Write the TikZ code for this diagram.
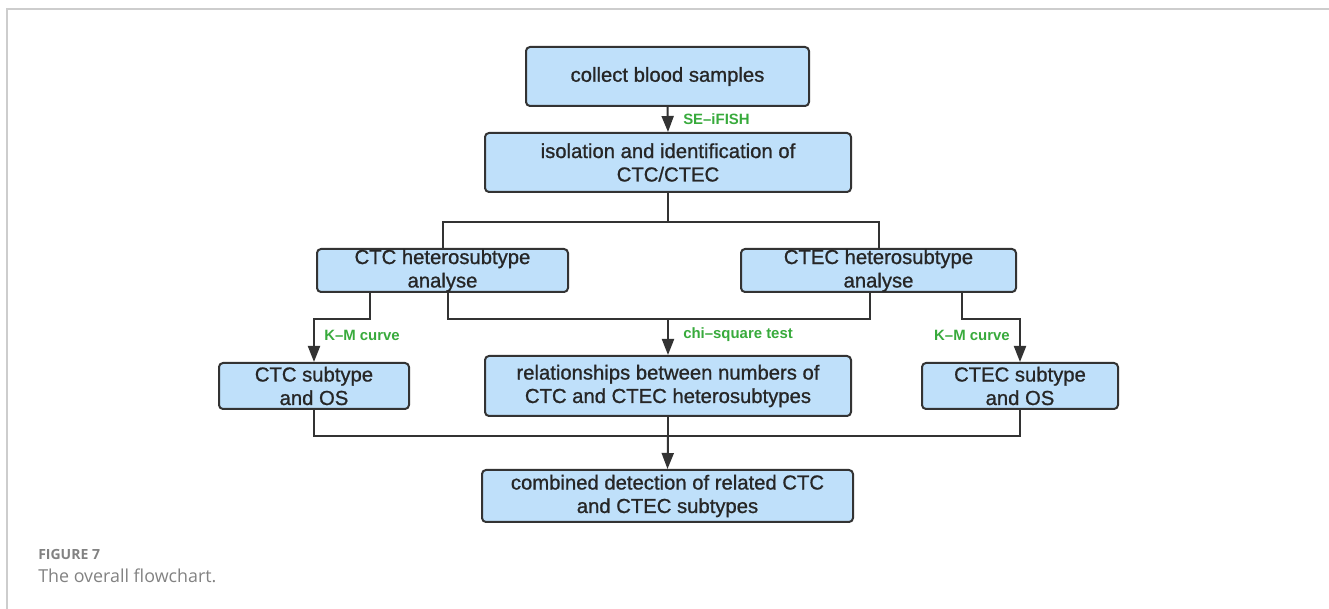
\documentclass[tikz,border=0pt]{standalone}
\usepackage{fontspec}
\setmainfont{Liberation Sans}
\newfontfamily\boxfont{Liberation Sans}[FakeBold=0.9]
\newfontfamily\capfont{Open Sans}
\usetikzlibrary{arrows.meta}
\definecolor{boxblue}{RGB}{191,224,250}
\definecolor{boxline}{RGB}{51,51,51}
\definecolor{labgreen}{RGB}{56,170,60}
\definecolor{capgray}{RGB}{130,130,130}
\definecolor{framegray}{RGB}{205,205,205}

\begin{document}
\begin{tikzpicture}[x=0.75pt,y=-0.75pt,
    box/.style={draw=boxline, fill=boxblue, line width=1.5pt, rounded corners=3pt,
      align=center, inner sep=0pt, text=black!85, font=\boxfont\fontsize{15.2}{17.6}\selectfont},
    link/.style={draw=boxline, line width=1.5pt},
    arr/.style={link, -{Triangle[length=12pt,width=9pt]}},
    lab/.style={text=labgreen, inner sep=0pt, font=\fontsize{11.2}{13}\selectfont\bfseries}]
    \def\u{0.75pt}
    \useasboundingbox (0,0) rectangle (1329,609);
    % frame
    \draw[framegray, line width=1.1pt] (7,609) -- (7,9) -- (1329,9);

    % boxes
    \node[box, minimum width=283*\u, minimum height=59*\u] (blood) at (667.5,76.5) {collect blood samples};
    \node[box, minimum width=366*\u, minimum height=59*\u] (iso) at (668,162.5) {isolation and identification of\\CTC/CTEC};
    \node[box, minimum width=251*\u, minimum height=43*\u] (cta) at (442.5,270.5) {CTC heterosubtype\\analyse};
    \node[box, minimum width=275*\u, minimum height=43*\u] (cte) at (878.5,270.5) {CTEC heterosubtype\\analyse};
    \node[box, minimum width=190*\u, minimum height=46*\u] (ctos) at (314,386) {CTC subtype\\and OS};
    \node[box, minimum width=366*\u, minimum height=60*\u] (rel) at (668,386) {relationships between numbers of\\CTC and CTEC heterosubtypes};
    \node[box, minimum width=196*\u, minimum height=46*\u] (ceos) at (1020,386) {CTEC subtype\\and OS};
    \node[box, minimum width=371*\u, minimum height=52*\u] (comb) at (667.5,496) {combined detection of related CTC\\and CTEC subtypes};

    % junctions
    \coordinate (jtop) at (668,222);
    \coordinate (kml) at (370,319);
    \coordinate (chil) at (448,319);
    \coordinate (chi) at (668,319);
    \coordinate (chir) at (870,319);
    \coordinate (kmr) at (962,319);
    \coordinate (jbot) at (668,436);

    % connectors
    \draw[arr] (blood.south) -- (iso.north);
    \draw[link] (iso.south) -- (jtop);
    \draw[link] (cta.north) |- (jtop) -| (cte.north);
    \draw[arr] (cta.south -| kml) -- (kml) -| (ctos.north);
    \draw[link] (cta.south -| chil) -- (chil) -- (chir) -- (cte.south -| chir);
    \draw[arr] (chi) -- (rel.north);
    \draw[arr] (cte.south -| kmr) -- (kmr) -| (ceos.north);
    \draw[link] (ctos.south) |- (jbot) -| (ceos.south);
    \draw[link] (rel.south) -- (jbot);
    \draw[arr] (jbot) -- (comb.north);

    % labels
    \node[lab, anchor=west] (fish) at (683,119) {SE\textendash iFISH};
    \node[lab, anchor=west] (kmlab) at (324,335) {K\textendash M curve};
    \node[lab, anchor=west] (chilab) at (683,335) {chi\textendash square test};
    \node[lab, anchor=east] (kmrlab) at (1010,335) {K\textendash M curve};

    % caption
    \node[anchor=base west, inner sep=0pt, text=capgray, font=\capfont\bfseries\fontsize{10.5}{12}\selectfont] (fig) at (38,560) {FIGURE 7};
    \node[anchor=base west, inner sep=0pt, text=capgray, font=\capfont\fontsize{13.4}{15}\selectfont] (cap) at (38,583) {The overall flowchart.};
  \end{tikzpicture}
\end{document}
